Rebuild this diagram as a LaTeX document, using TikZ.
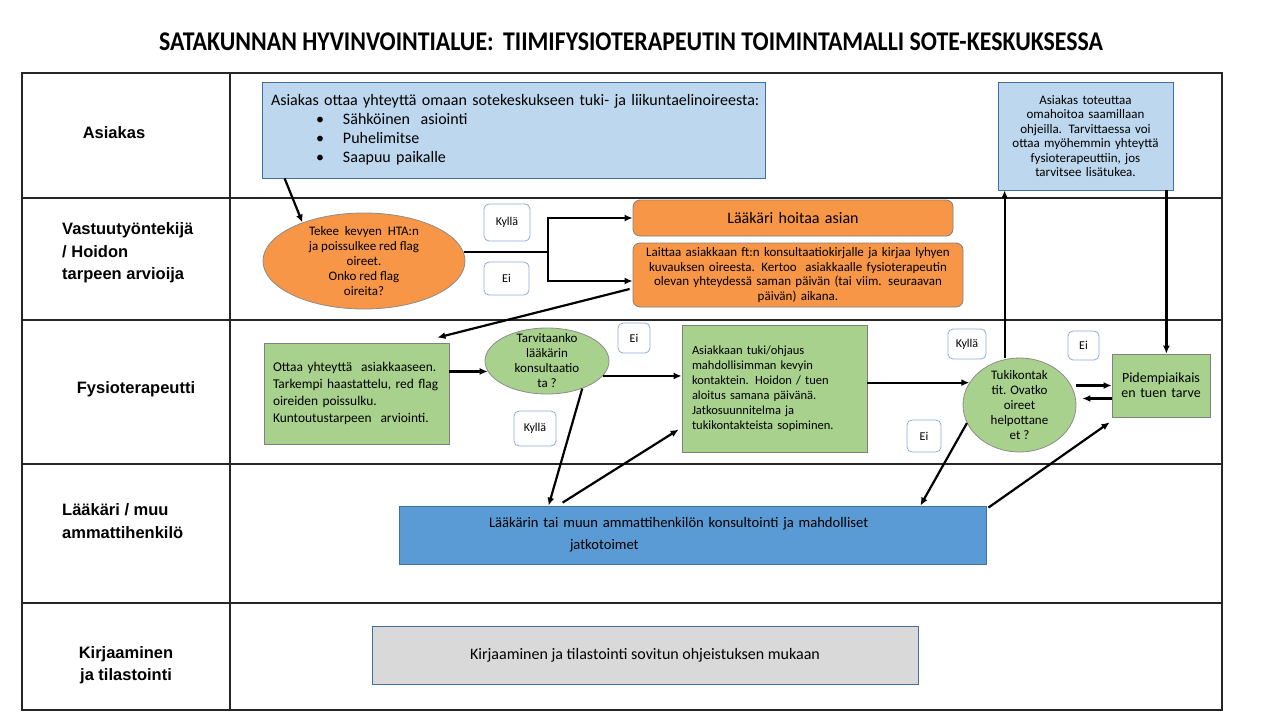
\documentclass[tikz,border=0pt]{standalone}
\usepackage{graphicx}
\usepackage{fontspec}
\setmainfont{Carlito}
\newfontfamily\lblfont{Liberation Sans}
\usetikzlibrary{arrows.meta,shapes.geometric,calc}
\definecolor{lightblue}{RGB}{189,215,238}
\definecolor{boxblue}{RGB}{91,155,213}
\definecolor{edgeblue}{RGB}{65,113,156}
\definecolor{orangefill}{RGB}{247,150,70}
\definecolor{greenfill}{RGB}{169,209,142}
\definecolor{greyfill}{RGB}{217,217,217}
\definecolor{tagedge}{RGB}{143,170,220}
\newcommand{\fsz}[2]{\fontsize{#1}{#2}\selectfont}
\begin{document}
\begin{tikzpicture}[x=1pt,y=-1pt,
  lane/.style={draw=black!85,line width=1.3pt},
  lbl/.style={font=\lblfont\bfseries\fsz{16.5}{22.5},inner sep=0pt},
  bluebox/.style={draw=edgeblue,fill=lightblue,line width=0.8pt,inner ysep=0pt},
  orangebox/.style={draw=black!50,fill=orangefill,rounded corners=7pt,line width=0.8pt,inner ysep=0pt},
  greenbox/.style={draw=black!50,fill=greenfill,line width=0.8pt,inner ysep=0pt},
  oval/.style={ellipse,draw=black!45,line width=0.8pt,inner sep=0pt},
  ovaltext/.style={align=center,font=\fsz{13}{15},inner sep=0pt},
  tag/.style={draw=tagedge,fill=white,rounded corners=5pt,line width=0.8pt,font=\fsz{12}{14},inner sep=0pt},
  arr/.style={line width=2.2pt,-{Latex[length=8pt,width=7pt]}},
  thickline/.style={line width=2.2pt}
]
\fill[white] (0,0) rectangle (1280,720);
\useasboundingbox (0,0) rectangle (1280,720);

\node (title) at (631,42) {\scalebox{0.883}[1]{\bfseries\fsz{27}{30}SATAKUNNAN HYVINVOINTIALUE:\, TIIMIFYSIOTERAPEUTIN TOIMINTAMALLI SOTE-KESKUKSESSA}};

\draw[lane] (22,73) rectangle (1222,710);
\draw[lane] (230,73) -- (230,710);
\foreach \y in {198,320,464,603}
  \draw[lane] (22,\y) -- (1222,\y);

\node[lbl] (asiakaslbl) at (114,133) {Asiakas};
\node[lbl,anchor=west,align=left] (vastuulbl) at (62,253) {Vastuutyöntekijä\\/ Hoidon\\tarpeen arvioija};
\node[lbl] (fysiolbl) at (136,389) {Fysioterapeutti};
\node[lbl,anchor=west,align=left] (laakarilbl) at (62,521) {Lääkäri / muu\\ammattihenkilö};
\node[lbl,align=center] (kirjaalbl) at (126,665) {Kirjaaminen\\ja tilastointi};

\node[bluebox,minimum height=96pt,text width=485pt,inner xsep=9pt,align=left,font=\fsz{16}{19}] (asiakas) at (513.5,130)
  {\mbox{Asiakas ottaa yhteyttä omaan sotekeskukseen tuki- ja liikuntaelinoireesta:}\\
   \hspace*{45pt}\makebox[27pt][l]{\textbullet}Sähköinen~ asiointi\\
   \hspace*{45pt}\makebox[27pt][l]{\textbullet}Puhelimitse\\
   \hspace*{45pt}\makebox[27pt][l]{\textbullet}Saapuu paikalle};
\node[bluebox,minimum height=108pt,text width=165pt,inner xsep=5pt,align=center,font=\fsz{13}{14.5}] (oma) at (1085.5,136)
  {Asiakas toteuttaa\\omahoitoa saamillaan\\ohjeilla. Tarvittaessa voi\\ottaa myöhemmin yhteyttä\\fysioterapeuttiin, jos\\tarvitsee lisätukea.};

\node[oval,fill=orangefill,minimum width=202pt,minimum height=96pt,
  label={[ovaltext]center:Tekee~ kevyen~ HTA:n\\ja poissulkee red flag\\oireet.\\Onko red flag\\oireita?}] (hta) at (364,261) {};
\node[orangebox,minimum height=36pt,text width=310pt,inner xsep=5pt,align=center,font=\fsz{16}{18}] (hoitaa) at (793,218) {Lääkäri hoitaa asian};
\node[orangebox,minimum height=64pt,text width=322pt,inner xsep=4pt,align=center,font=\fsz{13}{14.5}] (laittaa) at (798,275)
  {Laittaa asiakkaan ft:n konsultaatiokirjalle ja kirjaa lyhyen\\kuvauksen oireesta. Kertoo~ asiakkaalle fysioterapeutin\\olevan yhteydessä saman päivän (tai viim. seuraavan\\päivän) aikana.};

\node[greenbox,minimum height=101pt,text width=167pt,inner xsep=9pt,align=left,font=\fsz{13.4}{17}] (ottaa) at (356.5,393.5)
  {Ottaa yhteyttä~ asiakkaaseen.\\Tarkempi haastattelu, red flag\\oireiden poissulku.\\Kuntoutustarpeen~ arviointi.};
\node[oval,fill=greenfill,minimum width=124pt,minimum height=66pt,
  label={[ovaltext]center:Tarvitaanko\\lääkärin\\konsultaatio\\ta ?}] (tarv) at (547,361) {};
\node[greenbox,minimum height=127pt,text width=165pt,inner xsep=10pt,align=left,font=\fsz{12.5}{15}] (tuki) at (774.5,388.5)
  {Asiakkaan tuki/ohjaus\\mahdollisimman kevyin\\kontaktein. Hoidon / tuen\\aloitus samana päivänä.\\Jatkosuunnitelma ja\\tukikontakteista sopiminen.};
\node[oval,fill=greenfill,minimum width=113pt,minimum height=94pt,
  label={[ovaltext]center:Tukikontak\\tit. Ovatko\\oireet\\helpottane\\et ?}] (tukik) at (1019.5,405) {};
\node[greenbox,minimum height=63pt,text width=90pt,inner xsep=4pt,align=center,font=\fsz{14}{15}] (pid) at (1161,385.5)
  {Pidempiaikais\\en tuen tarve};

\node[draw=edgeblue,fill=boxblue,line width=0.8pt,minimum height=58pt,text width=587pt,inner sep=0pt,align=left,font=\fsz{14.6}{22}] (konsult) at (692.5,535)
  {\hspace*{90pt}Lääkärin tai muun ammattihenkilön konsultointi ja mahdolliset\\\hspace*{171pt}jatkotoimet};
\node[draw=edgeblue,fill=greyfill,line width=0.8pt,minimum width=546pt,minimum height=58pt,font=\fsz{16}{18}] (kirjaus) at (645,655)
  {Kirjaaminen ja tilastointi sovitun ohjeistuksen mukaan};

\node[tag,minimum width=46pt,minimum height=37pt] (k1) at (507,222.5) {Kyllä};
\node[tag,minimum width=45pt,minimum height=33pt] (e1) at (506.5,278.5) {Ei};
\node[tag,minimum width=32pt,minimum height=30pt] (e2) at (634,338) {Ei};
\node[tag,minimum width=42pt,minimum height=35pt] (k2) at (535,428.5) {Kyllä};
\node[tag,minimum width=38pt,minimum height=30pt] (k3) at (967,344) {Kyllä};
\node[tag,minimum width=31pt,minimum height=29pt] (e3) at (1083.5,345.5) {Ei};
\node[tag,minimum width=34pt,minimum height=32pt] (e4) at (924,436) {Ei};

\draw[arr] ($(asiakas.south west)+(23,0)$) -- (hta.148);
\coordinate (jn) at (548,253);
\draw[thickline] (hta.5) -- (hta.5 -| jn);
\draw[arr] (hta.5 -| jn) |- (hoitaa.west);
\draw[arr] (hta.5 -| jn) |- ($(laittaa.west)+(0,6)$);
\draw[arr] ($(laittaa.west)+(-3,14)$) -- ($(ottaa.north east)+(-12,-5)$);
\draw[arr] (ottaa.east |- tarv.190) -- (tarv.190);
\draw[arr] (tarv.345) -- (tarv.345 -| tuki.west);
\draw[arr] (tarv.322) -- ($(konsult.north west)+(150,0)$);
\draw[arr] ($(konsult.north west)+(164,-3)$) -- ($(tuki.west)+(-3,41)$);
\draw[arr] (tuki.east |- tukik.156) -- (tukik.156);
\draw[arr] ($(oma.south west |- tukik.north)+(7,0)$) -- ($(oma.south west)+(7,0)$);
\draw[arr] ($(oma.south east)+(-7,0)$) -- ($(oma.south east |- pid.north)+(-7,0)$);
\draw[arr] (tukik.east |- pid.west) -- (pid.west);
\draw[arr] ($(pid.west)+(0,13)$) -- ($(tukik.east |- pid.west)+(6,13)$);
\draw[arr] (tukik.199) -- ($(konsult.north east)+(-66,0)$);
\draw[arr] ($(konsult.north east)+(2,2)$) -- ($(pid.south west)+(-2,5)$);
\end{tikzpicture}
\end{document}
